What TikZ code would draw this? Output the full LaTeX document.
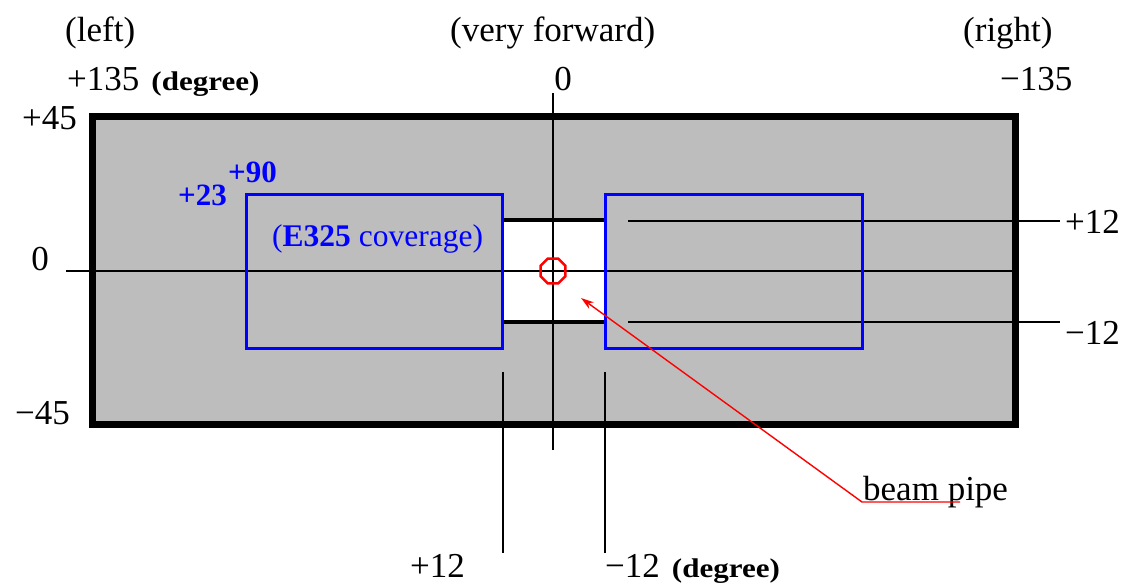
\documentclass[tikz,border=0pt]{standalone}
\usepackage{fontspec}
\setmainfont{Liberation Serif}
\usetikzlibrary{shapes.geometric,arrows.meta}
\newcommand\degtxt[1]{\hspace{12pt}\scalebox{1.15}[1]{\fontsize{27}{30}\selectfont\bfseries #1}}
\begin{document}
\begin{tikzpicture}[x=1pt,y=-1pt,
  lbl/.style={inner sep=0pt,anchor=base west,font=\fontsize{35}{40}\selectfont},
  bluelbl/.style={inner sep=0pt,anchor=base west,text=blue,font=\fontsize{31.5}{34}\selectfont},
  bluenum/.style={inner sep=0pt,anchor=base west,text=blue,font=\fontsize{31}{34}\selectfont\bfseries},
  thin line/.style={line width=1.3pt,black},
  frame/.style={line width=7pt,black},
  cover/.style={line width=3pt,blue},
  redline/.style={line width=1.4pt,red}]
\useasboundingbox (0,0) rectangle (1128,584);
% gray area
\fill[black!26] (92.5,116.5) rectangle (1015,424.5);
\fill[white] (503,220) rectangle (604,322);
% reference lines
\coordinate (h0a) at (66,271);
\coordinate (h0b) at (1015,271);
\coordinate (hpa) at (628,221);
\coordinate (hpb) at (1060,221);
\coordinate (hma) at (628,322);
\coordinate (hmb) at (1060,322);
\coordinate (v0a) at (553,93);
\coordinate (v0b) at (553,450);
\coordinate (vpa) at (503,372);
\coordinate (vpb) at (503,553);
\coordinate (vma) at (605,372);
\coordinate (vmb) at (605,553);
\draw[thin line] (h0a) -- (h0b);
\draw[thin line] (hpa) -- (hpb);
\draw[thin line] (hma) -- (hmb);
\draw[thin line] (v0a) -- (v0b);
\draw[thin line] (vpa) -- (vpb);
\draw[thin line] (vma) -- (vmb);
% frame
\draw[frame] (92.5,116.5) rectangle (1015,424.5);
% white window borders
\draw[line width=4pt] (503,220) -- (604,220);
\draw[line width=4pt] (503,322) -- (604,322);
% coverage boxes
\draw[cover] (246,194) rectangle (502,348);
\draw[cover] (605,194) rectangle (862,348);
% beam pipe
\node[regular polygon,regular polygon sides=8,draw=red,line width=2.5pt,minimum size=27pt,inner sep=0pt] (pipe) at (553,271) {};
% labels
\node[lbl] (left) at (65,41) {(left)};
\node[lbl] (fwd) at (450,41) {(very forward)};
\node[lbl] (right) at (963,41) {(right)};
\node[lbl] (p135) at (67,90) {+135\degtxt{(degree)}};
\node[lbl,anchor=base] (z0) at (563,90) {0};
\node[lbl] (m135) at (1000,90) {−135};
\node[lbl] (p45) at (22,129) {+45};
\node[lbl,anchor=base] (zl) at (40,270) {0};
\node[lbl] (m45) at (15,424) {−45};
\node[lbl] (rp12) at (1065,233) {+12};
\node[lbl] (rm12) at (1065,344) {−12};
\node[lbl] (bp12) at (410,577) {+12};
\node[lbl] (bm12) at (605,577) {−12\degtxt{(degree)}};
\node[bluenum] (p23) at (178,205) {+23};
\node[bluenum] (p90) at (228,182) {+90};
\node[bluelbl] (cov) at (272,246) {(\textbf{E325} coverage)};
\node[lbl] (beam) at (863,500) {beam pipe};
% arrow
\coordinate (tip) at (581,298);
\coordinate (bend) at (862,502);
\coordinate (bend2) at (960,502);
\draw[redline,{Stealth[length=13pt,width=8pt]}-] (tip) -- (bend) -- (bend2);
\end{tikzpicture}
\end{document}
